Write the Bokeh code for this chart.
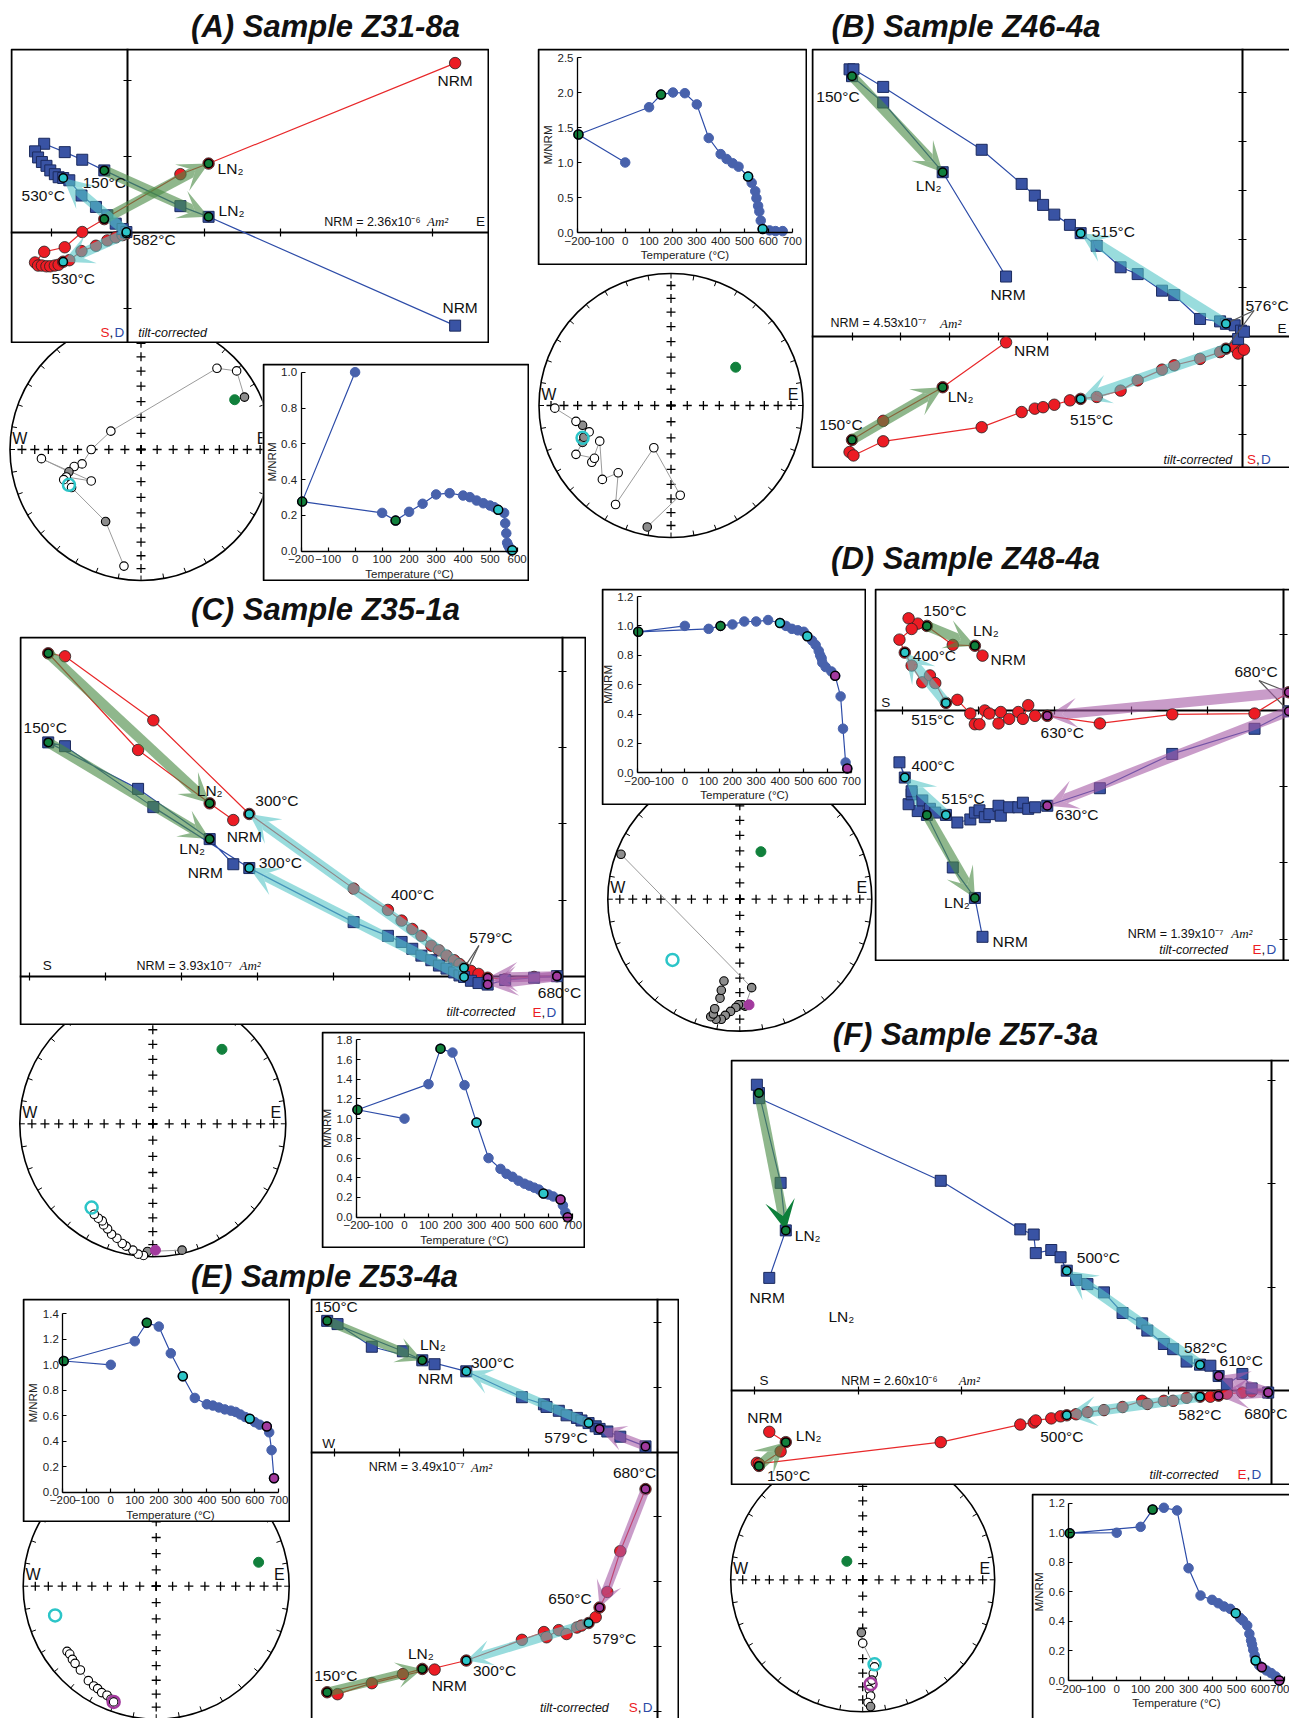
import numpy as np
from bokeh.plotting import figure
from bokeh.models import (GridBox, Label, Arrow, VeeHead, LinearAxis, SingleIntervalTicker,
                          FixedTicker, NumeralTickFormatter, Range1d, ColumnDataSource,
                          CustomJSTickFormatter)
from bokeh.embed import file_html
from bokeh.resources import INLINE

# ======================= DATA =======================
# --- Zijderveld diagrams: shared horizontal coordinate, red (S/E) and blue (D) projections
zA_x = [4.30, 1.06, 0.69, -0.31, -0.60, -0.83, -1.10, -1.22, -1.18, -1.13, -1.07, -1.02, -0.96, -0.91, -0.85, -0.77, -0.61, -0.42, -0.27, -0.16, -0.07, -0.02]
zA_red = [2.23, 0.91, 0.77, 0.18, 0.01, -0.19, -0.25, -0.39, -0.43, -0.43, -0.44, -0.44, -0.43, -0.42, -0.38, -0.36, -0.24, -0.17, -0.10, -0.06, -0.03, -0.01]
zA_blue = [-1.22, 0.21, 0.35, 0.82, 0.96, 1.06, 1.17, 1.07, 0.99, 0.93, 0.88, 0.82, 0.77, 0.73, 0.72, 0.69, 0.49, 0.34, 0.23, 0.12, 0.05, 0.01]

zB_x = [-4.84, -6.14, -7.36, -8.00, -8.05, -7.97, -7.36, -5.34, -4.52, -4.25, -4.08, -3.85, -3.53, -3.31, -2.98, -2.49, -2.14, -1.64, -1.39, -0.86, -0.45, -0.33, -0.15, -0.02, -0.08, 0.04]
zB_red = [-0.12, -1.04, -1.73, -2.12, -2.37, -2.44, -2.15, -1.86, -1.55, -1.48, -1.45, -1.40, -1.31, -1.28, -1.24, -1.11, -0.90, -0.68, -0.59, -0.46, -0.32, -0.25, -0.22, -0.29, -0.35, -0.27]
zB_blue = [1.23, 3.37, 4.80, 5.34, 5.48, 5.48, 5.12, 3.83, 3.13, 2.89, 2.70, 2.50, 2.29, 2.12, 1.86, 1.42, 1.28, 0.94, 0.85, 0.36, 0.31, 0.26, 0.23, 0.12, -0.05, 0.10]

zC_x = [-4.32, -4.63, -5.57, -6.75, -6.53, -5.37, -4.11, -2.74, -2.29, -2.11, -1.97, -1.85, -1.72, -1.62, -1.52, -1.42, -1.35, -1.29, -1.20, -1.10, -0.98, -0.75, -0.37, -0.07]
zC_red = [2.05, 2.27, 2.97, 4.24, 4.20, 3.36, 2.13, 1.15, 0.87, 0.73, 0.62, 0.53, 0.40, 0.34, 0.27, 0.21, 0.16, 0.11, 0.07, 0.03, -0.02, -0.04, -0.01, 0.00]
zC_blue = [1.47, 1.80, 2.46, 3.07, 3.02, 2.22, 1.42, 0.71, 0.53, 0.45, 0.36, 0.27, 0.21, 0.14, 0.10, 0.05, 0.01, -0.01, -0.06, -0.09, -0.11, -0.05, -0.02, 0.00]

zD_x = [-3.95, -4.05, -4.34, -4.68, -4.80, -4.92, -4.88, -5.04, -4.97, -4.88, -4.74, -4.64, -4.57, -4.43, -4.28, -4.11, -4.05, -3.99, -3.92, -3.86, -3.74, -3.71, -3.60, -3.48, -3.42, -3.35, -3.26, -3.10, -2.41, -1.46, -0.38, 0.07]
zD_red = [0.72, 0.85, 0.86, 1.11, 1.14, 1.21, 1.07, 0.93, 0.76, 0.59, 0.37, 0.46, 0.36, 0.10, 0.14, -0.04, -0.18, -0.18, 0.00, -0.04, -0.17, -0.02, -0.11, -0.02, -0.11, 0.07, -0.07, -0.07, -0.17, -0.05, -0.04, 0.24]
zD_blue = [-2.97, -2.46, -2.06, -1.37, -1.32, -1.23, -1.10, -0.68, -0.88, -1.06, -1.18, -1.29, -1.34, -1.37, -1.47, -1.43, -1.34, -1.31, -1.40, -1.36, -1.25, -1.38, -1.27, -1.27, -1.21, -1.29, -1.27, -1.25, -1.02, -0.57, -0.24, -0.01]

zE_x = [-3.45, -3.64, -3.94, -5.11, -4.95, -4.42, -2.96, -2.10, -1.76, -1.72, -1.53, -1.41, -1.25, -1.18, -1.07, -0.96, -0.90, -0.78, -0.58, -0.19]
zE_red = [-3.36, -3.35, -3.43, -3.71, -3.74, -3.57, -3.22, -2.90, -2.78, -2.86, -2.75, -2.81, -2.71, -2.68, -2.64, -2.55, -2.40, -2.16, -1.53, -0.57]
zE_blue = [1.36, 1.42, 1.56, 2.03, 1.98, 1.63, 1.25, 0.85, 0.74, 0.70, 0.64, 0.57, 0.53, 0.49, 0.45, 0.40, 0.36, 0.32, 0.24, 0.09]

zF_x = [-4.86, -4.70, -4.75, -4.96, -4.98, -4.96, -3.20, -2.43, -2.30, -2.28, -2.13, -2.04, -1.98, -1.89, -1.78, -1.62, -1.44, -1.25, -1.20, -1.04, -0.95, -0.82, -0.69, -0.59, -0.51, -0.43, -0.28, -0.19, -0.03]
zF_red = [-0.40, -0.50, -0.59, -0.73, -0.70, -0.71, -0.50, -0.33, -0.31, -0.29, -0.27, -0.25, -0.24, -0.23, -0.21, -0.19, -0.16, -0.10, -0.13, -0.10, -0.10, -0.07, -0.06, -0.06, -0.05, -0.03, -0.02, -0.01, -0.02]
zF_blue = [1.09, 1.55, 2.01, 2.88, 2.96, 2.83, 2.03, 1.56, 1.51, 1.33, 1.36, 1.29, 1.16, 1.07, 1.03, 0.95, 0.75, 0.65, 0.58, 0.45, 0.40, 0.28, 0.25, 0.24, 0.14, 0.06, 0.16, 0.02, -0.02]

# --- M/NRM vs temperature (LN2 step plotted at -196 C)
mA_T = [0, -196, 100, 150, 200, 250, 300, 350, 400, 425, 450, 475, 500, 515, 530, 552, 556, 560, 563, 567, 572, 577, 582]
mA_M = [1.0, 0.277, 0.214, 0.171, 0.22, 0.265, 0.317, 0.324, 0.311, 0.302, 0.283, 0.268, 0.255, 0.246, 0.231, 0.214, 0.156, 0.10, 0.047, 0.032, 0.019, 0.007, 0.005]
mB_T = [0, -196, 100, 150, 200, 250, 300, 350, 400, 425, 450, 475, 515, 530, 545, 550, 557, 562, 568, 576, 605, 630, 660]
mB_M = [1.0, 1.40, 1.79, 1.97, 2.0, 1.99, 1.83, 1.35, 1.12, 1.05, 0.99, 0.94, 0.80, 0.71, 0.59, 0.49, 0.38, 0.30, 0.17, 0.05, 0.03, 0.02, 0.02]
mC_T = [0, -196, 100, 150, 200, 250, 300, 350, 400, 425, 450, 475, 500, 520, 540, 560, 579, 600, 620, 650, 660, 670, 680]
mC_M = [1.0, 1.09, 1.35, 1.71, 1.67, 1.34, 0.96, 0.60, 0.49, 0.44, 0.41, 0.37, 0.34, 0.32, 0.30, 0.28, 0.24, 0.23, 0.21, 0.18, 0.12, 0.05, 0.0]
mD_T = [0, -196, 100, 150, 200, 250, 300, 350, 400, 425, 450, 475, 500, 515, 535, 550, 563, 569, 575, 578, 592, 616, 632, 655, 665, 676, 683]
mD_M = [1.0, 0.96, 0.98, 1.0, 1.01, 1.03, 1.03, 1.04, 1.02, 1.0, 0.98, 0.97, 0.96, 0.93, 0.90, 0.87, 0.83, 0.80, 0.78, 0.75, 0.72, 0.69, 0.66, 0.52, 0.30, 0.07, 0.03]
mE_T = [0, -196, 100, 150, 200, 250, 300, 350, 400, 425, 450, 475, 500, 520, 540, 560, 579, 600, 620, 650, 660, 670, 680]
mE_M = [1.0, 1.03, 1.185, 1.33, 1.30, 1.09, 0.91, 0.74, 0.69, 0.68, 0.665, 0.65, 0.64, 0.63, 0.61, 0.59, 0.576, 0.55, 0.53, 0.516, 0.47, 0.33, 0.11]
mF_T = [0, -196, 100, 150, 197, 252, 300, 350, 398, 424, 448, 474, 497, 515, 527, 545, 554, 561, 565, 570, 576, 580, 595, 606, 625, 645, 664, 679]
mF_M = [1.0, 0.997, 1.04, 1.157, 1.169, 1.151, 0.760, 0.575, 0.546, 0.523, 0.501, 0.485, 0.456, 0.424, 0.406, 0.372, 0.316, 0.271, 0.244, 0.208, 0.169, 0.135, 0.102, 0.090, 0.068, 0.050, 0.027, 0.0]

# --- equal-area stereonets (projected east / north, unit circle); low = lower hemisphere
sA_e = [0.79, 0.73, 0.58, -0.23, -0.38, -0.45, -0.51, -0.55, -0.76, -0.38, -0.57, -0.59, -0.53, -0.27, -0.13]
sA_n = [0.40, 0.60, 0.62, 0.14, 0.00, -0.11, -0.13, -0.17, -0.07, -0.24, -0.21, -0.23, -0.29, -0.55, -0.89]
sA_low = [1, 0, 0, 0, 0, 0, 0, 1, 0, 0, 0, 0, 0, 1, 0]
sA_mean = [(0.715, 0.38, "g", 1), (-0.55, -0.27, "c", 0)]

sB_e = [-0.18, 0.07, -0.13, -0.42, -0.40, -0.52, -0.54, -0.60, -0.58, -0.72, -0.67, -0.66, -0.62, -0.67, -0.72, -0.88]
sB_n = [-0.92, -0.68, -0.32, -0.75, -0.51, -0.56, -0.27, -0.43, -0.40, -0.37, -0.28, -0.24, -0.20, -0.15, -0.12, -0.02]
sB_low = [1, 0, 0, 0, 0, 0, 0, 0, 0, 0, 1, 1, 0, 1, 0, 0]
sB_mean = [(0.49, 0.29, "g", 1), (-0.67, -0.245, "c", 0)]

sC_e = [0.22, -0.04, -0.07, -0.11, -0.15, -0.20, -0.23, -0.27, -0.31, -0.34, -0.37, -0.38, -0.41, -0.44]
sC_n = [-0.95, -0.96, -0.99, -0.98, -0.95, -0.92, -0.90, -0.86, -0.83, -0.79, -0.76, -0.73, -0.71, -0.68]
sC_low = [1, 1, 0, 0, 0, 0, 0, 0, 0, 0, 0, 0, 0, 0]
sC_mean = [(0.52, 0.56, "g", 1), (-0.46, -0.63, "c", 0), (0.02, -0.95, "m", 1)]

sD_e = [-0.90, 0.09, 0.04, 0.02, -0.01, -0.03, -0.07, -0.11, -0.14, -0.18, -0.22, -0.20, -0.19, -0.15, -0.14, -0.12]
sD_n = [0.34, -0.67, -0.81, -0.80, -0.80, -0.82, -0.85, -0.88, -0.91, -0.91, -0.89, -0.87, -0.83, -0.75, -0.69, -0.62]
sD_low = [1] * 16
sD_mean = [(0.16, 0.36, "g", 1), (-0.51, -0.46, "c", 0), (0.07, -0.80, "m", 1)]

sE_e = [-0.67, -0.65, -0.63, -0.61, -0.57, -0.51, -0.47, -0.44, -0.41, -0.37, -0.34, -0.32]
sE_n = [-0.49, -0.51, -0.55, -0.58, -0.63, -0.71, -0.75, -0.77, -0.80, -0.82, -0.85, -0.87]
sE_low = [0] * 12
sE_mean = [(0.77, 0.18, "g", 1), (-0.76, -0.22, "c", 0), (-0.32, -0.87, "m", 0)]

sF_e = [-0.01, 0.00, 0.09, 0.08, 0.07, 0.05, 0.06, 0.04, 0.06]
sF_n = [-0.40, -0.48, -0.66, -0.71, -0.76, -0.83, -0.88, -0.93, -0.96]
sF_low = [1, 0, 0, 0, 0, 0, 0, 0, 1]
sF_mean = [(-0.12, 0.14, "g", 1), (0.09, -0.64, "c", 0), (0.06, -0.79, "m", 0)]

# ======================= STYLE =======================
FONT = "Liberation Sans"
SERIF = "Liberation Serif"
PAGE_W, PAGE_H, MARG = 1289, 1718, 0   # Bokeh's page template has no body margin
RED = "#ec1c24"; RED_LINE = "#e8282a"; BLUE = "#3953a4"; BLUE_LINE = "#2d4ca8"
MBLUE = "#4862ac"; GREY_PT = "#8d8d8d"
HL = {"g": "#11803c", "c": "#2cc5c8", "m": "#a23a9e"}
ARROW = {"g": ("#4b8a45", 0.62), "c": ("#55c4c6", 0.6), "m": ("#a55aa5", 0.6)}
KIND = {
    "lbl": ("15.5px", "#111111", FONT, "normal"),
    "nrm": ("12.5px", "#111111", FONT, "normal"),
    "am": ("13px", "#111111", SERIF, "italic"),
    "it": ("12.5px", "#111111", FONT, "italic"),
    "ax": ("13.5px", "#111111", FONT, "normal"),
    "net": ("16px", "#111111", FONT, "normal"),
    "r": ("13.5px", RED, FONT, "normal"),
    "b": ("13.5px", "#2b4aa6", FONT, "normal"),
    "k": ("13.5px", "#111111", FONT, "normal"),
    "title": ("31px", "#111111", FONT, "bold italic"),
}
NO_LABELS = CustomJSTickFormatter(code="return ''")


def clamp_rect(x0, y0, x1, y1):
    return (max(MARG, int(round(x0))), max(MARG, int(round(y0))),
            min(PAGE_W, int(round(x1))), min(PAGE_H, int(round(y1))))


def base_fig(rect, xr, yr, bg):
    x0, y0, x1, y1 = rect
    p = figure(width=x1 - x0, height=y1 - y0, x_range=Range1d(*xr), y_range=Range1d(*yr),
               x_axis_type=None, y_axis_type=None, toolbar_location=None,
               output_backend="svg", min_border=0)
    p.min_border_left = p.min_border_right = p.min_border_top = p.min_border_bottom = 0
    p.outline_line_color = None
    p.background_fill_color = bg
    p.border_fill_color = bg
    return p


def add_lbl(p, x, y, text, align, kind, baseline="middle"):
    size, color, font, style = KIND[kind]
    p.add_layout(Label(x=float(x), y=float(y), text=text, text_align=align,
                       text_baseline=baseline, text_font=font, text_font_size=size,
                       text_color=color, text_font_style=style))


def add_arrow(p, x0, y0, x1, y1, col, head, lw, head_color=None, head_alpha=None):
    c, a = ARROW[col]
    src = ColumnDataSource(dict(x0=x0, y0=y0, x1=x1, y1=y1))
    p.add_layout(Arrow(end=VeeHead(size=head, fill_color=head_color or c,
                                   fill_alpha=a if head_alpha is None else head_alpha,
                                   line_color=None),
                       x_start="x0", y_start="y0", x_end="x1", y_end="y1", source=src,
                       line_color=c, line_alpha=a, line_width=lw))


def zij(rect, origin, unit, xs, red, blue, hl, arrows, labels, texts, leaders=(),
        cut_r=False, cut_b=False, head=30, lw=10, solid_blue_green=False):
    rect = clamp_rect(*rect)
    x0, y0, x1, y1 = rect
    ox, oy = origin
    xr = ((x0 - ox) / unit, (x1 - ox) / unit)
    yr = ((oy - y1) / unit, (oy - y0) / unit)
    p = base_fig(rect, xr, yr, "white")
    ins = 1.0 / unit
    p.quad(left=[xr[0] + ins], right=[xr[1] + (1 if cut_r else -ins)],
           bottom=[yr[0] + (-1 if cut_b else ins)], top=[yr[1] - ins],
           fill_color=None, line_color="black", line_width=2)
    for side in ("below", "left"):
        ax = LinearAxis(fixed_location=0, ticker=SingleIntervalTicker(interval=1, num_minor_ticks=0),
                        formatter=NO_LABELS, major_label_text_font_size="1px",
                        major_tick_in=4, major_tick_out=4,
                        major_tick_line_width=1.2, minor_tick_line_color=None,
                        axis_line_width=2, axis_line_color="black", level="underlay")
        p.add_layout(ax, side)
    p.line(xs, red, line_color=RED_LINE, line_width=1.2)
    p.line(xs, blue, line_color=BLUE_LINE, line_width=1.2)
    p.scatter(xs, red, marker="circle", size=11.5, fill_color=RED, line_color="#222222", line_width=0.8)
    p.scatter(xs, blue, marker="square", size=11, fill_color=BLUE, line_color="#1b2a5e", line_width=1)
    for col, s, e in arrows:
        add_arrow(p, [xs[s]], [red[s]], [xs[e]], [red[e]], col, head, lw)
        if solid_blue_green and col == "g":
            add_arrow(p, [xs[s]], [blue[s]], [xs[e]], [blue[e]], col, head, lw,
                      head_color="#0d7f3a", head_alpha=1.0)
        else:
            add_arrow(p, [xs[s]], [blue[s]], [xs[e]], [blue[e]], col, head, lw)
    for col, idxs in hl.items():
        xx = [xs[i] for i in idxs] * 2
        yy = [red[i] for i in idxs] + [blue[i] for i in idxs]
        r = p.scatter(xx, yy, marker="circle", size=8.5, fill_color=HL[col],
                      line_color="black", line_width=1.5)
        r.level = "overlay"
    for lx, ly, i in leaders:
        ddx, ddy = (lx - ox) / unit, (oy - ly) / unit
        p.segment([ddx, ddx], [ddy, ddy], [xs[i], xs[i]], [red[i], blue[i]],
                  line_color="#555555", line_width=1.2)
    for text, ser, i, ddx, ddy, align in labels:
        yv = red[i] if ser == "r" else blue[i]
        add_lbl(p, xs[i] + ddx / unit, yv - ddy / unit, text, align, "lbl")
    for text, px, py, align, kind in texts:
        add_lbl(p, (px - ox) / unit, (oy - py) / unit, text, align, kind)
    return p, rect


def mnrm(rect, ax_px, ppd, zy, ppu, T, Mv, hl, ymax, ystep, xmax=700, cut_r=False, cut_b=False):
    rect = clamp_rect(*rect)
    x0, y0, x1, y1 = rect
    xr = (-200 - (ax_px - x0) / ppd, -200 + (x1 - ax_px) / ppd)
    yr = (-(y1 - zy) / ppu, (zy - y0) / ppu)
    p = base_fig(rect, xr, yr, "white")
    ix, iy = 1.0 / ppd, 1.0 / ppu
    p.quad(left=[xr[0] + ix], right=[xr[1] + (50 if cut_r else -ix)],
           bottom=[yr[0] + (-1 if cut_b else iy)], top=[yr[1] - iy],
           fill_color=None, line_color="black", line_width=2)
    common = dict(major_tick_in=4, major_tick_out=0, minor_tick_line_color=None,
                  axis_line_width=1.3, major_tick_line_width=1.2,
                  major_label_text_font=FONT, major_label_text_font_size="11.5px",
                  major_label_text_color="#222222", axis_label_text_font=FONT,
                  axis_label_text_font_size="11.5px", axis_label_text_font_style="normal",
                  axis_label_text_color="#222222", major_label_standoff=4,
                  axis_label_standoff=1)
    xa = LinearAxis(fixed_location=0, bounds=(-200, xmax),
                    ticker=FixedTicker(ticks=list(range(-200, xmax + 1, 100))),
                    axis_label="Temperature (°C)", **common)
    nt = int(round(ymax / ystep))
    ya = LinearAxis(fixed_location=-200, bounds=(0, ymax),
                    ticker=FixedTicker(ticks=[round(k * ystep, 3) for k in range(nt + 1)]),
                    formatter=NumeralTickFormatter(format="0.0"), axis_label="M/NRM", **common)
    p.add_layout(xa, "below")
    p.add_layout(ya, "left")
    p.line(T, Mv, line_color=BLUE_LINE, line_width=1.2)
    p.scatter(T, Mv, size=9.5, fill_color=MBLUE, line_color=MBLUE)
    for col, idxs in hl.items():
        p.scatter([T[i] for i in idxs], [Mv[i] for i in idxs], size=9, fill_color=HL[col],
                  line_color="black", line_width=1.5)
    return p, rect


def stereo(center, R, e, n, low, means):
    cx, cy = center
    h = R + 8
    rect = clamp_rect(cx - h, cy - h, cx + h, cy + h)
    x0, y0, x1, y1 = rect
    xr = ((x0 - cx) / R, (x1 - cx) / R)
    yr = ((cy - y1) / R, (cy - y0) / R)
    p = base_fig(rect, xr, yr, None)
    p.circle(x=[0], y=[0], radius=1, fill_color=None, line_color="black", line_width=1.6)
    ang = np.radians(np.arange(0, 360, 10))
    rin = 1 - 5.0 / R
    p.segment(np.cos(ang), np.sin(ang), rin * np.cos(ang), rin * np.sin(ang),
              line_color="black", line_width=1)
    incs = np.arange(10, 91, 10)
    rr = np.sqrt(2) * np.sin(np.radians(90 - incs) / 2)
    z = np.zeros_like(rr)
    p.scatter(np.concatenate([rr, -rr, z, z]), np.concatenate([z, z, rr, -rr]),
              marker="cross", size=9, line_color="black", line_width=1.3)
    add_lbl(p, -0.925, 0.085, "W", "center", "net")
    add_lbl(p, 0.925, 0.085, "E", "center", "net")
    p.line(e, n, line_color="#9b9b9b", line_width=1)
    fills = [GREY_PT if lo else "white" for lo in low]
    p.scatter(e, n, size=8.5, fill_color=fills, line_color="black", line_width=1.1)
    for me, mn, col, filled in means:
        if filled:
            p.scatter([me], [mn], size=10, fill_color=HL[col], line_color=HL[col])
        else:
            p.scatter([me], [mn], size=12, fill_color=None, line_color=HL[col], line_width=2.5)
    return p, rect


def title(text, cx, base):
    # text is centred on the middle of its capitals, ~11 px above the baseline
    rect = clamp_rect(cx - 180, base - 40, cx + 180, base + 10)
    x0, y0, x1, y1 = rect
    p = base_fig(rect, (0, x1 - x0), (0, y1 - y0), None)
    add_lbl(p, cx - x0, y1 - (base - 11), text, "center", "title", baseline="middle")
    return p, rect


# ======================= PANELS =======================
panels = []

# stereonets (drawn first, partially covered by boxes)
panels.append(stereo((140.5, 449), 131, sA_e, sA_n, sA_low, sA_mean))
panels.append(stereo((670.5, 405), 132, sB_e, sB_n, sB_low, sB_mean))
panels.append(stereo((152.3, 1123.3), 133, sC_e, sC_n, sC_low, sC_mean))
panels.append(stereo((739.3, 898.7), 132, sD_e, sD_n, sD_low, sD_mean))
panels.append(stereo((155.7, 1585.7), 133, sE_e, sE_n, sE_low, sE_mean))
panels.append(stereo((862.2, 1579.3), 132, sF_e, sF_n, sF_low, sF_mean))

# M/NRM plots
panels.append(mnrm((262, 363, 529, 581), 300.6, 0.27, 550.7, 179, mA_T, mA_M,
                   {"g": [1, 3], "c": [14, 22]}, 1.0, 0.2, xmax=600))
panels.append(mnrm((537, 48, 807, 265), 577, 0.2386, 232, 70, mB_T, mB_M,
                   {"g": [1, 3], "c": [12, 19]}, 2.5, 0.5))
panels.append(mnrm((321, 1031, 585, 1248), 356, 0.24, 1216.7, 98.56, mC_T, mC_M,
                   {"g": [1, 3], "c": [6, 16], "m": [19, 22]}, 1.8, 0.2))
panels.append(mnrm((601, 588, 866, 805), 636.8, 0.2378, 772.3, 146.9, mD_T, mD_M,
                   {"g": [1, 3], "c": [8, 13], "m": [22, 26]}, 1.2, 0.2))
panels.append(mnrm((22, 1298, 290, 1522), 62.3, 0.24, 1491.7, 127.4, mE_T, mE_M,
                   {"g": [1, 3], "c": [6, 16], "m": [19, 22]}, 1.4, 0.2))
panels.append(mnrm((1031, 1493, 1289, 1718), 1068.3, 0.2395, 1680, 147.75, mF_T, mF_M,
                   {"g": [1, 3], "c": [12, 21], "m": [23, 27]}, 1.2, 0.2, cut_r=True, cut_b=True))

# Zijderveld diagrams
panels.append(zij((10, 48, 489, 343), (127.4, 232.3), 76.1, zA_x, zA_red, zA_blue,
                  {"g": [1, 3], "c": [14, 21]}, [("g", 3, 1), ("c", 21, 14)],
                  [("NRM", "r", 0, 0, 17, "center"), ("NRM", "b", 0, 5, -18, "center"),
                   ("LN₂", "r", 1, 9, 5, "left"), ("LN₂", "b", 1, 10, -6, "left"),
                   ("150°C", "b", 3, 0, 12, "center"), ("530°C", "b", 14, -20, 17, "center"),
                   ("582°C", "b", 21, 6, 7, "left"), ("530°C", "r", 14, 10, 17, "center")],
                  [("NRM = 2.36x10⁻⁶", 323.7, 221, "left", "nrm"), ("Am²", 447.7, 221, "right", "am"),
                   ("E", 480, 221, "center", "ax"),
                   ("S", 100, 332, "left", "r"), (",", 109, 332, "left", "k"), ("D", 114, 332, "left", "b"),
                   ("tilt-corrected", 137.7, 332, "left", "it")]))

panels.append(zij((811, 48, 1289, 468), (1241.5, 336), 48.75, zB_x, zB_red, zB_blue,
                  {"g": [1, 3], "c": [13, 21]}, [("g", 3, 1), ("c", 21, 13)],
                  [("150°C", "b", 3, -14, 20, "center"), ("LN₂", "b", 1, -14, 13, "center"),
                   ("NRM", "b", 0, 2, 18, "center"), ("515°C", "b", 13, 11, -2, "left"),
                   ("NRM", "r", 0, 8, 8, "left"), ("LN₂", "r", 1, 5, 9, "left"),
                   ("150°C", "r", 3, -11, -15, "center"), ("515°C", "r", 13, 11, 21, "center")],
                  [("576°C", 1245, 305, "left", "lbl"),
                   ("NRM = 4.53x10⁻⁷", 830, 322.7, "left", "nrm"), ("Am²", 960.8, 322.7, "right", "am"),
                   ("E", 1277, 328.3, "left", "ax"),
                   ("tilt-corrected", 1231.8, 459.3, "right", "it"),
                   ("S", 1246.4, 459.3, "left", "r"), (",", 1255.4, 459.3, "left", "k"),
                   ("D", 1260.4, 459.3, "left", "b")],
                  leaders=[(1253.6, 310, 21)], cut_r=True))

panels.append(zij((19, 636, 586, 1025), (561.8, 975.7), 76.16, zC_x, zC_red, zC_blue,
                  {"g": [1, 3], "c": [6, 17], "m": [20, 23]}, [("g", 3, 1), ("c", 17, 6), ("m", 23, 20)],
                  [("150°C", "b", 3, -3, -15, "center"), ("LN₂", "r", 1, 0, -13, "center"),
                   ("300°C", "r", 6, 6, -13, "left"), ("NRM", "r", 0, 11, 16, "center"),
                   ("LN₂", "b", 1, -17.5, 9, "center"), ("300°C", "b", 6, 9.5, -6, "left"),
                   ("NRM", "b", 0, -28, 8, "center"), ("400°C", "r", 8, 3, -15, "left"),
                   ("680°C", "r", 23, 2.5, 16, "center")],
                  [("579°C", 468.8, 936.7, "left", "lbl"), ("S", 46.7, 965, "center", "ax"),
                   ("NRM = 3.93x10⁻⁷", 135.9, 965, "left", "nrm"), ("Am²", 260.2, 965, "right", "am"),
                   ("tilt-corrected", 514.7, 1011.7, "right", "it"),
                   ("E", 532, 1011.7, "left", "r"), (",", 541, 1011.7, "left", "k"),
                   ("D", 546, 1011.7, "left", "b")],
                  leaders=[(478.4, 945, 17)]))

panels.append(zij((874, 588, 1289, 961), (1283, 710), 76.2, zD_x, zD_red, zD_blue,
                  {"g": [1, 3], "c": [8, 13], "m": [27, 31]}, [("g", 3, 1), ("c", 13, 8), ("m", 31, 27)],
                  [("150°C", "r", 3, -3.6, -15, "left"), ("LN₂", "r", 1, -2, -15, "left"),
                   ("NRM", "r", 0, 8, 4, "left"), ("400°C", "r", 8, 8, 3, "left"),
                   ("515°C", "r", 13, -34.7, 17, "left"), ("630°C", "r", 27, -6.7, 17, "left"),
                   ("400°C", "b", 7, 12, 3, "left"), ("515°C", "b", 13, -4.5, -16, "left"),
                   ("630°C", "b", 27, 8, 9, "left"), ("LN₂", "b", 1, -5, 5, "right"),
                   ("NRM", "b", 0, 10, 5, "left")],
                  [("680°C", 1234, 670.7, "left", "lbl"), ("S", 880.7, 701.7, "left", "ax"),
                   ("NRM = 1.39x10⁻⁷", 1127.2, 933.3, "left", "nrm"), ("Am²", 1252, 933.3, "right", "am"),
                   ("tilt-corrected", 1227.5, 949.3, "right", "it"),
                   ("E", 1252, 949.3, "left", "r"), (",", 1261, 949.3, "left", "k"),
                   ("D", 1266, 949.3, "left", "b")],
                  leaders=[(1258.5, 680, 31)], cut_r=True))

panels.append(zij((310, 1298, 679, 1718), (657.3, 1451.7), 64.7, zE_x, zE_red, zE_blue,
                  {"g": [1, 3], "c": [6, 14], "m": [16, 19]}, [("g", 3, 1), ("c", 14, 6), ("m", 19, 16)],
                  [("150°C", "b", 3, 9, -14, "center"), ("LN₂", "b", 1, -2.4, -16, "left"),
                   ("NRM", "b", 0, 1, 14, "center"), ("300°C", "b", 6, 4.7, -9, "left"),
                   ("579°C", "b", 14, -1, 14.6, "right"), ("680°C", "r", 19, -11, -16.7, "center"),
                   ("650°C", "r", 16, -8, -9, "right"), ("579°C", "r", 14, 4.3, 15.6, "left"),
                   ("LN₂", "r", 1, -14.4, -15, "left"), ("150°C", "r", 3, -13, -17, "left"),
                   ("300°C", "r", 6, 6.7, 10, "left"), ("NRM", "r", 0, 14.7, 16, "center")],
                  [("W", 321.7, 1443.3, "left", "ax"),
                   ("NRM = 3.49x10⁻⁷", 368.3, 1466.7, "left", "nrm"), ("Am²", 491.7, 1466.7, "right", "am"),
                   ("tilt-corrected", 608.3, 1707, "right", "it"),
                   ("S", 628.3, 1707, "left", "r"), (",", 637.3, 1707, "left", "k"),
                   ("D", 642.3, 1707, "left", "b")],
                  cut_b=True, head=26, lw=9))

panels.append(zij((730, 1059, 1289, 1485), (1270.8, 1390), 103.3, zF_x, zF_red, zF_blue,
                  {"g": [1, 3], "c": [12, 22], "m": [24, 28]}, [("g", 3, 1), ("c", 22, 12), ("m", 28, 24)],
                  [("LN₂", "b", 1, 9, 5, "left"), ("NRM", "b", 0, -2, 20, "center"),
                   ("500°C", "b", 12, 10, -13, "left"), ("582°C", "b", 22, -16, -17, "left"),
                   ("610°C", "b", 24, 1, -16, "left"), ("NRM", "r", 0, -4.4, -14.3, "center"),
                   ("LN₂", "r", 1, 10, -6.7, "left"), ("150°C", "r", 3, 8, 10, "left"),
                   ("500°C", "r", 12, -5, 21.7, "center"), ("582°C", "r", 22, -21.8, 18.3, "left")],
                  [("LN₂", 828, 1316, "left", "lbl"), ("S", 759, 1380, "left", "ax"),
                   ("680°C", 1287, 1413.3, "right", "lbl"),
                   ("NRM = 2.60x10⁻⁶", 840.8, 1380, "left", "nrm"), ("Am²", 979.4, 1380, "right", "am"),
                   ("tilt-corrected", 1217.8, 1474, "right", "it"),
                   ("E", 1237, 1474, "left", "r"), (",", 1246, 1474, "left", "k"),
                   ("D", 1251, 1474, "left", "b")],
                  cut_r=True, solid_blue_green=True))

# titles
panels.append(title("(A) Sample Z31-8a", 325, 37))
panels.append(title("(B) Sample Z46-4a", 965.5, 37))
panels.append(title("(C) Sample Z35-1a", 325, 620))
panels.append(title("(D) Sample Z48-4a", 965, 569))
panels.append(title("(E) Sample Z53-4a", 324, 1287))
panels.append(title("(F) Sample Z57-3a", 965, 1045))

# ======================= GRID ASSEMBLY =======================
xe = sorted({MARG, PAGE_W} | {v for _, r in panels for v in (r[0], r[2])})
ye = sorted({MARG, PAGE_H} | {v for _, r in panels for v in (r[1], r[3])})
cols = [f"{b - a}px" for a, b in zip(xe[:-1], xe[1:])]
rows = [f"{b - a}px" for a, b in zip(ye[:-1], ye[1:])]
children = []
for fig, (x0, y0, x1, y1) in panels:
    ci, cj = xe.index(x0), xe.index(x1)
    ri, rj = ye.index(y0), ye.index(y1)
    children.append((fig, ri, ci, rj - ri, cj - ci))

root = GridBox(children=children, rows=rows, cols=cols, spacing=0)

with open("out.html", "w") as f:
    f.write(file_html(root, INLINE, title="Thermal demagnetization"))
